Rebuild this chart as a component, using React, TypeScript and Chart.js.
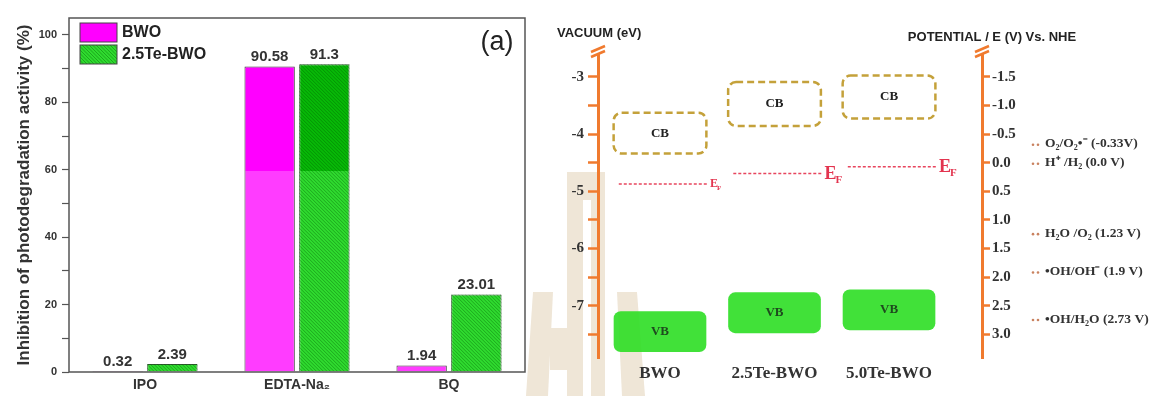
import React, { useEffect, useRef } from "react";
import { Chart, registerables } from "chart.js";

Chart.register(...registerables);

// ---------- data: left panel ----------
const inhibitionCategories = ["IPO", "EDTA-Na₂", "BQ"];
const inhibitionSeries = ["BWO", "2.5Te-BWO"];
const bwoInhibition = [0.32, 90.58, 1.94];
const teInhibition = [2.39, 91.3, 23.01];
const inhibitionTickLabels = [0, 20, 40, 60, 80, 100];

// ---------- data: right panel ----------
const materials = ["BWO", "2.5Te-BWO", "5.0Te-BWO"];
const cbTop = [-3.63, -3.09, -2.98];
const cbBottom = [-4.34, -3.86, -3.73];
const vbTop = [-7.1, -6.77, -6.72];
const vbBottom = [-7.8, -7.47, -7.42];
const fermiLevel = [-4.87, -4.69, -4.57];
const vacuumTickLabels = [-3, -4, -5, -6, -7];
const nheTickLabels = [-1.5, -1.0, -0.5, 0.0, 0.5, 1.0, 1.5, 2.0, 2.5, 3.0];
const redoxLabels = [
  "O₂/O₂•⁻ (-0.33V)",
  "H⁺ /H₂ (0.0 V)",
  "H₂O /O₂ (1.23 V)",
  "•OH/OH⁻ (1.9 V)",
  "•OH/H₂O (2.73 V)",
];
const redoxPotentials = [-0.33, 0.0, 1.23, 1.9, 2.73];

// ---------- styles ----------
const SANS = "'Liberation Sans', Arial, sans-serif";
const SERIF = "'Liberation Serif', 'Times New Roman', serif";
const ORANGE = "#f07a2e";
const MAGENTA_LIGHT = "#ff3cff";
const MAGENTA_DARK = "#ff00ff";
const GREEN_LIGHT = "#2fdb2f";
const GREEN_DARK = "#07b907";
const SHADE_SPLIT = 59.5;
const efFontSizes = [12, 18, 18];

function shaded(light: string, dark: string) {
  return (ctx: any) => {
    const chart = ctx.chart;
    const area = chart.chartArea;
    if (!area || !chart.scales.y) return light;
    const ySplit = chart.scales.y.getPixelForValue(SHADE_SPLIT);
    const g = chart.ctx.createLinearGradient(0, area.bottom, 0, area.top);
    const t = Math.min(1, Math.max(0, (area.bottom - ySplit) / (area.bottom - area.top)));
    g.addColorStop(0, light);
    g.addColorStop(t, light);
    g.addColorStop(t, dark);
    g.addColorStop(1, dark);
    return g;
  };
}

function hatch(ctx: CanvasRenderingContext2D, x: number, y: number, w: number, h: number) {
  ctx.save();
  ctx.beginPath();
  ctx.rect(x, y, w, h);
  ctx.clip();
  ctx.strokeStyle = "rgba(0,90,0,0.4)";
  ctx.lineWidth = 1;
  for (let k = -h; k < w + h; k += 3.5) {
    ctx.beginPath();
    ctx.moveTo(x + k, y);
    ctx.lineTo(x + k + h, y + h);
    ctx.stroke();
  }
  ctx.restore();
}

const leftDecor = {
  id: "leftDecor",
  afterDatasetsDraw(chart: any) {
    const { ctx, chartArea: a } = chart;
    const meta1 = chart.getDatasetMeta(1);
    meta1.data.forEach((el: any) => {
      const w = el.width;
      const top = Math.min(el.y, el.base);
      const h = Math.abs(el.base - el.y);
      hatch(ctx, el.x - w / 2, top, w, h);
    });
    ctx.save();
    ctx.font = `bold 15px ${SANS}`;
    ctx.fillStyle = "#333";
    ctx.textAlign = "center";
    ctx.textBaseline = "bottom";
    [bwoInhibition, teInhibition].forEach((vals, di) => {
      const meta = chart.getDatasetMeta(di);
      meta.data.forEach((el: any, i: number) => {
        ctx.fillText(String(vals[i]), el.x, el.y - 2);
      });
    });
    ctx.restore();
    ctx.save();
    ctx.strokeStyle = "#555";
    ctx.lineWidth = 1.5;
    ctx.strokeRect(a.left, a.top, a.right - a.left, a.bottom - a.top);
    ctx.restore();
    ctx.save();
    const lx = a.left + 11;
    const boxes = [
      { y: a.top + 5, fill: MAGENTA_DARK, hatch: false },
      { y: a.top + 27, fill: GREEN_LIGHT, hatch: true },
    ];
    boxes.forEach((b, i) => {
      ctx.fillStyle = b.fill;
      ctx.fillRect(lx, b.y, 37, 19);
      if (b.hatch) hatch(ctx, lx, b.y, 37, 19);
      ctx.strokeStyle = "#444";
      ctx.lineWidth = 1;
      ctx.strokeRect(lx, b.y, 37, 19);
      ctx.fillStyle = "#222";
      ctx.font = `bold 16px ${SANS}`;
      ctx.textAlign = "left";
      ctx.textBaseline = "middle";
      ctx.fillText(inhibitionSeries[i], lx + 42, b.y + 10);
    });
    ctx.font = `27px ${SANS}`;
    ctx.fillStyle = "#222";
    ctx.textAlign = "center";
    ctx.fillText("(a)", a.right - 28, a.top + 25);
    ctx.restore();
  },
};

function drawEF(ctx: CanvasRenderingContext2D, x: number, y: number, size: number) {
  ctx.save();
  ctx.fillStyle = "#e3344f";
  ctx.textAlign = "left";
  ctx.textBaseline = "alphabetic";
  ctx.font = `bold ${size}px ${SERIF}`;
  ctx.fillText("E", x, y + size * 0.3);
  const w = ctx.measureText("E").width;
  ctx.font = `bold ${Math.round(size * 0.62)}px ${SERIF}`;
  ctx.fillText("F", x + w - 1, y + size * 0.5);
  ctx.restore();
}

function breakMark(ctx: CanvasRenderingContext2D, x: number, y: number) {
  ctx.save();
  ctx.strokeStyle = ORANGE;
  ctx.lineWidth = 2.5;
  [0, 5].forEach((d) => {
    ctx.beginPath();
    ctx.moveTo(x - 7, y + 3 - d);
    ctx.lineTo(x + 7, y - 3 - d);
    ctx.stroke();
  });
  ctx.restore();
}

const rightDecor = {
  id: "rightDecor",
  afterDatasetsDraw(chart: any) {
    const { ctx, chartArea: a } = chart;
    const xs = chart.scales.x;
    const ys = chart.scales.y;
    const y2 = chart.scales.y2;
    materials.forEach((_, i) => {
      const x0 = xs.getPixelForValue(i + 1 - 0.405);
      const x1 = xs.getPixelForValue(i + 1 + 0.405);
      const t = ys.getPixelForValue(cbTop[i]);
      const b = ys.getPixelForValue(cbBottom[i]);
      ctx.save();
      ctx.strokeStyle = "#c4a13a";
      ctx.lineWidth = 2.5;
      ctx.setLineDash([7, 4]);
      ctx.beginPath();
      (ctx as any).roundRect(x0, t, x1 - x0, b - t, 8);
      ctx.stroke();
      ctx.setLineDash([]);
      ctx.fillStyle = "#222";
      ctx.font = `bold 13px ${SERIF}`;
      ctx.textAlign = "center";
      ctx.textBaseline = "middle";
      ctx.fillText("CB", (x0 + x1) / 2, (t + b) / 2);
      const vt = ys.getPixelForValue(vbTop[i]);
      const vb = ys.getPixelForValue(vbBottom[i]);
      ctx.fillStyle = "#1f4a1f";
      ctx.fillText("VB", xs.getPixelForValue(i + 1), (vt + vb) / 2);
      ctx.restore();
      const ex = xs.getPixelForValue(i + 1 + 0.41) + 3;
      const ey = ys.getPixelForValue(fermiLevel[i]);
      drawEF(ctx, ex, ey, efFontSizes[i]);
    });
    breakMark(ctx, a.left, a.top - 1);
    breakMark(ctx, a.right, a.top - 1);
    ctx.save();
    ctx.fillStyle = "#222";
    ctx.font = `bold 13px ${SANS}`;
    ctx.textBaseline = "middle";
    ctx.textAlign = "left";
    ctx.fillText("VACUUM (eV)", a.left - 41, a.top - 22);
    ctx.textAlign = "center";
    ctx.fillText("POTENTIAL / E (V) Vs. NHE", a.right + 10, a.top - 18);
    ctx.restore();
    ctx.save();
    redoxLabels.forEach((lab, i) => {
      const y = y2.getPixelForValue(redoxPotentials[i]);
      ctx.fillStyle = "#c9825f";
      [0, 5].forEach((d) => {
        ctx.beginPath();
        ctx.arc(a.right + 51 + d, y + 1, 1.3, 0, Math.PI * 2);
        ctx.fill();
      });
      ctx.fillStyle = "#333";
      ctx.font = `bold 13.5px ${SERIF}`;
      ctx.textAlign = "left";
      ctx.textBaseline = "middle";
      ctx.fillText(lab, a.right + 63, y);
    });
    ctx.restore();
  },
};

export default function App() {
  const leftRef = useRef<HTMLCanvasElement | null>(null);
  const rightRef = useRef<HTMLCanvasElement | null>(null);

  useEffect(() => {
    const left = new Chart(leftRef.current as HTMLCanvasElement, {
      type: "bar",
      data: {
        labels: inhibitionCategories,
        datasets: [
          {
            label: inhibitionSeries[0],
            data: bwoInhibition,
            backgroundColor: shaded(MAGENTA_LIGHT, MAGENTA_DARK),
            borderColor: "#3a3a3a",
            borderWidth: 1,
            categoryPercentage: 0.72,
            barPercentage: 0.92,
          },
          {
            label: inhibitionSeries[1],
            data: teInhibition,
            backgroundColor: shaded(GREEN_LIGHT, GREEN_DARK),
            borderColor: "#2c5a2c",
            borderWidth: 1,
            categoryPercentage: 0.72,
            barPercentage: 0.92,
          },
        ],
      },
      options: {
        responsive: false,
        animation: false,
        layout: { padding: { top: 18, right: 25, left: 0, bottom: 0 } },
        plugins: { legend: { display: false }, tooltip: { enabled: false } },
        scales: {
          x: {
            grid: { display: false, drawTicks: false },
            border: { display: false },
            ticks: { font: { family: SANS, size: 14, weight: "bold" }, color: "#333", padding: 5 },
            afterFit: (s: any) => {
              s.height = 24;
            },
          },
          y: {
            min: 0,
            max: 105,
            ticks: {
              stepSize: 10,
              includeBounds: false,
              callback: (v: any) => (inhibitionTickLabels.includes(v) ? String(v) : ""),
              font: { family: SANS, size: 11, weight: "bold" },
              color: "#333",
              padding: 5,
            },
            grid: { drawOnChartArea: false, color: "#555", tickLength: 7, tickWidth: 1.2 },
            border: { display: false },
            title: {
              display: true,
              text: "Inhibition of photodegradation activity (%)",
              font: { family: SANS, size: 17, weight: "bold" },
              color: "#333",
              padding: { top: 14, bottom: 0 },
            },
            afterFit: (s: any) => {
              s.width = 69;
            },
          },
        },
      } as any,
      plugins: [leftDecor],
    });

    const right = new Chart(rightRef.current as HTMLCanvasElement, {
      type: "bar",
      data: {
        datasets: [
          {
            type: "bar",
            label: "VB",
            data: materials.map((_, i) => ({ x: i + 1, y: [vbBottom[i], vbTop[i]] })),
            backgroundColor: "rgba(44,222,36,0.9)",
            borderWidth: 0,
            borderRadius: 7,
            borderSkipped: false,
            barThickness: 92,
            xAxisID: "x",
            yAxisID: "y",
          },
          ...materials.map((m, i) => ({
            type: "line",
            label: "EF " + m,
            data: [
              { x: i + 1 - 0.36, y: fermiLevel[i] },
              { x: i + 1 + 0.41, y: fermiLevel[i] },
            ],
            borderColor: "#e8455e",
            borderWidth: 1.5,
            borderDash: [3, 2],
            pointRadius: 0,
            xAxisID: "x",
            yAxisID: "y",
          })),
        ],
      } as any,
      options: {
        responsive: false,
        animation: false,
        layout: { padding: { top: 55, left: 0, right: 0, bottom: 0 } },
        plugins: { legend: { display: false }, tooltip: { enabled: false } },
        scales: {
          x: {
            type: "linear",
            min: 0.4585,
            max: 3.812,
            offset: false,
            grid: { display: false, drawTicks: false },
            border: { display: false },
            afterBuildTicks: (s: any) => {
              s.ticks = materials.map((_, i) => ({ value: i + 1 }));
            },
            ticks: {
              autoSkip: false,
              maxRotation: 0,
              callback: (v: any) => materials[Math.round(v) - 1] ?? "",
              font: { family: SERIF, size: 17, weight: "bold" },
              color: "#333",
              padding: 5,
            },
            afterFit: (s: any) => {
              s.height = 38;
            },
          },
          y: {
            type: "linear",
            position: "left",
            min: -7.91,
            max: -2.62,
            ticks: {
              stepSize: 0.5,
              includeBounds: false,
              callback: (v: any) => (vacuumTickLabels.includes(v) ? String(v) : ""),
              font: { family: SERIF, size: 15, weight: "bold" },
              color: "#333",
              padding: 4,
            },
            grid: { drawOnChartArea: false, color: ORANGE, tickLength: 10, tickWidth: 2.5 },
            border: { color: ORANGE, width: 3 },
            afterFit: (s: any) => {
              s.width = 48;
            },
          },
          y2: {
            type: "linear",
            position: "right",
            reverse: true,
            min: -1.88,
            max: 3.41,
            ticks: {
              stepSize: 0.5,
              includeBounds: false,
              callback: (v: any) => (nheTickLabels.includes(v) ? Number(v).toFixed(1) : ""),
              font: { family: SERIF, size: 15, weight: "bold" },
              color: "#333",
              padding: 2,
            },
            grid: { drawOnChartArea: false, color: ORANGE, tickLength: 8, tickWidth: 2.5 },
            border: { color: ORANGE, width: 3 },
            afterFit: (s: any) => {
              s.width = 171;
            },
          },
        },
      } as any,
      plugins: [rightDecor],
    });

    return () => {
      left.destroy();
      right.destroy();
    };
  }, []);

  const beige = "#efe6d7";
  return (
    <div style={{ position: "absolute", left: 0, top: 0, width: 1153, height: 396, background: "#fff", overflow: "hidden" }}>
      <svg width={1153} height={396} style={{ position: "absolute", left: 0, top: 0 }}>
        <polygon points="533,292 553,292 548,396 526,396" fill={beige} />
        <polygon points="550,328 570,328 570,370 550,370" fill={beige} />
        <polygon points="567,172 605,172 605,200 567,200" fill={beige} />
        <polygon points="567,200 583,200 583,396 567,396" fill={beige} />
        <polygon points="591,200 605,200 605,396 591,396" fill={beige} />
        <polygon points="617,292 637,292 645,396 622,396" fill={beige} />
      </svg>
      <canvas ref={leftRef} width={550} height={396} style={{ position: "absolute", left: 0, top: 0 }} />
      <canvas ref={rightRef} width={603} height={396} style={{ position: "absolute", left: 550, top: 0 }} />
    </div>
  );
}
